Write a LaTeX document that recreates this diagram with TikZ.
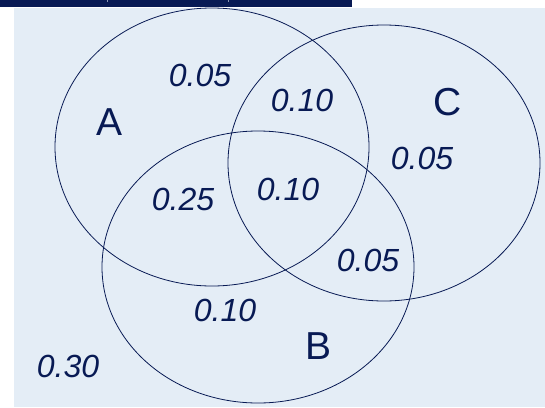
\documentclass[tikz,border=0pt]{standalone}
\usepackage{fontspec}
\setmainfont{Liberation Sans}
\usepackage{tikz}
\usetikzlibrary{positioning}
\definecolor{navy}{RGB}{8,26,84}
\definecolor{panelbg}{RGB}{228,237,246}
\newcommand{\prob}[1]{\textit{#1}}

\begin{document}
\begin{tikzpicture}[
      x=1pt, y=-1pt,
      setline/.style={draw=navy, line width=0.8pt},
      setname/.style={text=navy, font=\fontsize{39}{39}\selectfont, inner sep=0pt},
      val/.style={text=navy, font=\fontsize{32}{32}\selectfont\itshape, inner sep=0pt},
    ]
    \useasboundingbox (0,0) rectangle (545,407);
    \fill[panelbg] (14,8) rectangle (545,407);
    \fill[navy] (0,0) rectangle (352,7);
    \draw[panelbg!60!navy, line width=0.6pt] (107,0) -- (107,2) (228,0) -- (228,2);

    % the three sets
    \coordinate (cA) at (212,147);
    \coordinate (cB) at (258,267);
    \coordinate (cC) at (384,163);
    \draw[setline] (cA) ellipse [x radius=157, y radius=139];
    \draw[setline] (cB) ellipse [x radius=156, y radius=136];
    \draw[setline] (cC) ellipse [x radius=156, y radius=138];

    \node[setname] (nameA) at (110,122) {A};
    \node[setname] (nameB) at (319,346) {B};
    \node[setname] (nameC) at (448,102) {C};

    \node[val] (pA)   at (200,75)  {0.05};
    \node[val] (pAC)  at (302,100) {0.10};
    \node[val] (pC)   at (422,158) {0.05};
    \node[val] (pAB)  at (183,199) {0.25};
    \node[val] (pABC) at (288,189) {0.10};
    \node[val] (pBC)  at (368,260) {0.05};
    \node[val] (pB)   at (225,310) {0.10};
    \node[val] (pout) at (68,366)  {0.30};
  \end{tikzpicture}
\end{document}
